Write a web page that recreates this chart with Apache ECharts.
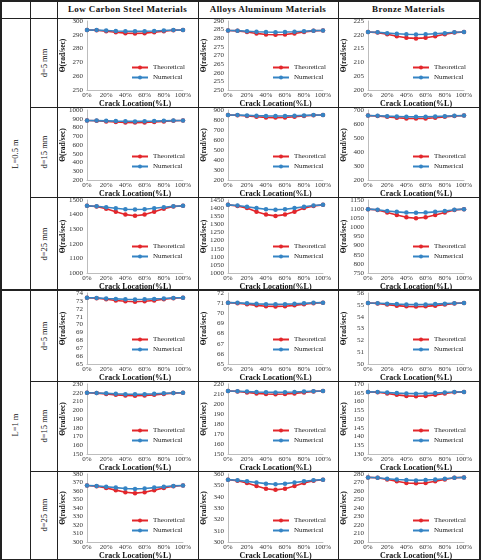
<!DOCTYPE html>
<html>
<head>
<meta charset="utf-8">
<script src="https://cdn.jsdelivr.net/npm/echarts@6/dist/echarts.min.js"></script>
<style>
  html, body { margin: 0; padding: 0; background: #fff; }
  #page { position: relative; width: 481px; height: 560px; font-family: "Liberation Serif", serif; }
  .ln { position: absolute; background: #222; }
  .cell { position: absolute; }
  .hdr { position: absolute; font-weight: bold; font-size: 9px; letter-spacing: 0.4px; text-align: center; color: #111; }
  .rot { position: absolute; font-size: 8.5px; color: #111; white-space: nowrap; transform: translate(-50%, -50%) rotate(-90deg); }
</style>
</head>
<body>
<div id="page"></div>
<script>
  // x axis categories (crack location)
  var categories = ['0%', '10%', '20%', '30%', '40%', '50%', '60%', '70%', '80%', '90%', '100%'];
  var materials = ['Low Carbon Steel Materials', 'Alloys Aluminum Materials', 'Bronze Materials'];
  var lengths = ['L=0.5 m', 'L=1 m'];
  var depths = ['d=5 mm', 'd=15 mm', 'd=25 mm'];

  // values per row: [steel, aluminum, bronze]
  var theo_L05_d5 = [
    [293.5, 293.3, 292.6, 291.8, 291.2, 291.0, 291.2, 291.8, 292.6, 293.3, 293.5],
    [284.5, 284.3, 283.6, 282.8, 282.2, 282.0, 282.2, 282.8, 283.6, 284.3, 284.5],
    [221.0, 220.8, 220.2, 219.5, 218.9, 218.7, 218.9, 219.5, 220.2, 220.8, 221.0]
  ];
  var num_L05_d5 = [
    [293.5, 293.4, 293.1, 292.8, 292.6, 292.5, 292.6, 292.8, 293.1, 293.4, 293.5],
    [284.5, 284.4, 284.1, 283.8, 283.6, 283.5, 283.6, 283.8, 284.1, 284.4, 284.5],
    [221.0, 220.9, 220.6, 220.4, 220.2, 220.1, 220.2, 220.4, 220.6, 220.9, 221.0]
  ];
  var theo_L05_d15 = [
    [880, 877, 870, 863, 858, 856, 858, 863, 870, 877, 880],
    [850, 847, 840, 832, 826, 824, 826, 832, 840, 847, 850],
    [660, 657, 651, 645, 640, 639, 640, 645, 651, 657, 660]
  ];
  var num_L05_d15 = [
    [880, 879, 876, 873, 871, 870, 871, 873, 876, 879, 880],
    [850, 849, 846, 843, 841, 840, 841, 843, 846, 849, 850],
    [660, 659, 656, 654, 652, 651, 652, 654, 656, 659, 660]
  ];
  var theo_L05_d25 = [
    [1460, 1455, 1440, 1420, 1400, 1392, 1400, 1420, 1440, 1455, 1460],
    [1420, 1413, 1400, 1378, 1360, 1352, 1360, 1378, 1400, 1413, 1420],
    [1100, 1095, 1082, 1068, 1055, 1050, 1055, 1068, 1082, 1095, 1100]
  ];
  var num_L05_d25 = [
    [1460, 1457, 1450, 1443, 1437, 1435, 1437, 1443, 1450, 1457, 1460],
    [1420, 1416, 1408, 1400, 1393, 1390, 1393, 1400, 1408, 1416, 1420],
    [1100, 1097, 1090, 1085, 1081, 1080, 1081, 1085, 1090, 1097, 1100]
  ];
  var theo_L1_d5 = [
    [73.4, 73.35, 73.2, 73.05, 72.95, 72.9, 72.95, 73.05, 73.2, 73.35, 73.4],
    [71.05, 71.0, 70.9, 70.78, 70.7, 70.68, 70.7, 70.78, 70.9, 71.0, 71.05],
    [55.15, 55.12, 55.02, 54.93, 54.87, 54.85, 54.87, 54.93, 55.02, 55.12, 55.15]
  ];
  var num_L1_d5 = [
    [73.4, 73.38, 73.3, 73.25, 73.2, 73.18, 73.2, 73.25, 73.3, 73.38, 73.4],
    [71.05, 71.03, 70.98, 70.93, 70.9, 70.88, 70.9, 70.93, 70.98, 71.03, 71.05],
    [55.15, 55.13, 55.1, 55.06, 55.03, 55.02, 55.03, 55.06, 55.1, 55.13, 55.15]
  ];
  var theo_L1_d15 = [
    [220, 219.6, 218.7, 217.6, 216.8, 216.5, 216.8, 217.6, 218.7, 219.6, 220],
    [213, 212.6, 211.6, 210.6, 210.0, 209.8, 210.0, 210.6, 211.6, 212.6, 213],
    [165.5, 165.3, 164.6, 163.8, 163.2, 163.0, 163.2, 163.8, 164.6, 165.3, 165.5]
  ];
  var num_L1_d15 = [
    [220, 219.8, 219.3, 218.8, 218.4, 218.2, 218.4, 218.8, 219.3, 219.8, 220],
    [213, 212.8, 212.4, 212.0, 211.7, 211.6, 211.7, 212.0, 212.4, 212.8, 213],
    [165.5, 165.4, 165.1, 164.8, 164.6, 164.5, 164.6, 164.8, 165.1, 165.4, 165.5]
  ];
  var theo_L1_d25 = [
    [366.5, 365.5, 363.5, 361, 358.5, 357.5, 358.5, 361, 363.5, 365.5, 366.5],
    [355, 354, 352, 349.5, 347, 346, 347, 349.5, 352, 354, 355],
    [276, 275.5, 273.5, 271.5, 269.5, 269, 269.5, 271.5, 273.5, 275.5, 276]
  ];
  var num_L1_d25 = [
    [366.5, 366, 365, 364, 363, 362.5, 363, 364, 365, 366, 366.5],
    [355, 354.5, 353.5, 352.5, 351.5, 351, 351.5, 352.5, 353.5, 354.5, 355],
    [276, 275.5, 274.5, 273.5, 273, 272.5, 273, 273.5, 274.5, 275.5, 276]
  ];

  // y axis ticks [min, max, step] per chart
  var yTicks = [
    [[250, 300, 10], [250, 290, 5], [200, 225, 5]],
    [[200, 1000, 100], [200, 900, 100], [200, 700, 100]],
    [[1000, 1500, 100], [1000, 1450, 50], [750, 1150, 50]],
    [[65, 74, 1], [65, 72, 1], [50, 56, 1]],
    [[150, 230, 10], [150, 220, 10], [130, 170, 5]],
    [[300, 380, 10], [300, 360, 10], [200, 280, 10]]
  ];

  var theoRows = [theo_L05_d5, theo_L05_d15, theo_L05_d25, theo_L1_d5, theo_L1_d15, theo_L1_d25];
  var numRows = [num_L05_d5, num_L05_d15, num_L05_d25, num_L1_d5, num_L1_d15, num_L1_d25];

  // table layout
  var colX = [0, 30, 57, 198, 338, 479];
  var rowY = [0, 18, 107, 197, 290, 381, 471, 559];
  var RED = '#e3262b', BLUE = '#3584c4';
  var page = document.getElementById('page');

  function line(x, y, w, h) {
    var d = document.createElement('div');
    d.className = 'ln';
    d.style.left = x + 'px'; d.style.top = y + 'px';
    d.style.width = w + 'px'; d.style.height = h + 'px';
    page.appendChild(d);
  }
  colX.forEach(function (x, i) {
    var w = (i === 0 || i === colX.length - 1) ? 2 : 1;
    line(x, 0, w, 561);
  });
  line(0, 0, 481, 2);
  line(0, 18, 481, 1);
  line(0, 289, 481, 2);
  line(0, 559, 481, 2);
  [107, 197, 381, 471].forEach(function (y) { line(30, y, 451, 1); });

  materials.forEach(function (m, i) {
    var d = document.createElement('div');
    d.className = 'hdr';
    d.textContent = m;
    d.style.left = colX[i + 2] + 'px';
    d.style.width = (colX[i + 3] - colX[i + 2]) + 'px';
    d.style.top = '4px';
    page.appendChild(d);
  });

  function rotText(txt, cx, cy) {
    var d = document.createElement('div');
    d.className = 'rot';
    d.textContent = txt;
    d.style.left = cx + 'px'; d.style.top = cy + 'px';
    page.appendChild(d);
  }
  rotText(lengths[0], 15, (rowY[1] + rowY[4]) / 2);
  rotText(lengths[1], 15, (rowY[4] + rowY[7]) / 2);
  for (var r = 0; r < 6; r++) {
    rotText(depths[r % 3], 44, (rowY[r + 1] + rowY[r + 2]) / 2);
  }

  var labelFont = { fontFamily: 'Liberation Serif', fontSize: 7, color: '#333' };

  for (var r = 0; r < 6; r++) {
    for (var c = 0; c < 3; c++) {
      var div = document.createElement('div');
      div.className = 'cell';
      var w = colX[c + 3] - colX[c + 2], h = rowY[r + 2] - rowY[r + 1];
      div.style.left = colX[c + 2] + 'px';
      div.style.top = rowY[r + 1] + 'px';
      div.style.width = w + 'px';
      div.style.height = h + 'px';
      page.appendChild(div);
      var chart = echarts.init(div, null, { renderer: 'canvas' });
      var t = yTicks[r][c];
      chart.setOption({
        animation: false,
        grid: { left: 30, right: 15, top: 3, bottom: 17, outerBoundsMode: 'none' },
        legend: {
          orient: 'vertical', left: 69, top: 41, itemGap: 3,
          itemWidth: 16, itemHeight: 5,
          textStyle: { fontFamily: 'Liberation Serif', fontSize: 7, color: '#222' },
          data: ['Theoretical', 'Numerical']
        },
        xAxis: {
          type: 'category', data: categories, boundaryGap: false,
          axisLine: { lineStyle: { color: '#bdbdbd' } },
          axisTick: { show: false },
          axisLabel: Object.assign({ interval: 1, margin: 2 }, labelFont),
          name: 'Crack Location(%L)', nameLocation: 'middle', nameGap: 10,
          nameMoveOverlap: false,
          nameTextStyle: { fontFamily: 'Liberation Serif', fontSize: 8, fontWeight: 'bold', color: '#111' }
        },
        yAxis: {
          type: 'value', min: t[0], max: t[1], interval: t[2],
          axisLine: { show: true, lineStyle: { color: '#bdbdbd' } },
          axisTick: { show: false },
          splitLine: { show: false },
          axisLabel: Object.assign({ margin: 4, formatter: function (v) { return String(v); } }, labelFont),
          name: '\u0398(rad/sec)', nameLocation: 'middle', nameGap: 20, nameRotate: 90,
          nameMoveOverlap: false,
          nameTextStyle: { fontFamily: 'Liberation Serif', fontSize: 7.5, fontWeight: 'bold', color: '#111' }
        },
        series: [
          {
            name: 'Theoretical', type: 'line', data: theoRows[r][c],
            symbol: 'circle', symbolSize: 4.5,
            lineStyle: { color: RED, width: 1.6 }, itemStyle: { color: RED }
          },
          {
            name: 'Numerical', type: 'line', data: numRows[r][c],
            symbol: 'circle', symbolSize: 4.5,
            lineStyle: { color: BLUE, width: 1.6 }, itemStyle: { color: BLUE }
          }
        ]
      });
    }
  }
</script>
</body>
</html>
